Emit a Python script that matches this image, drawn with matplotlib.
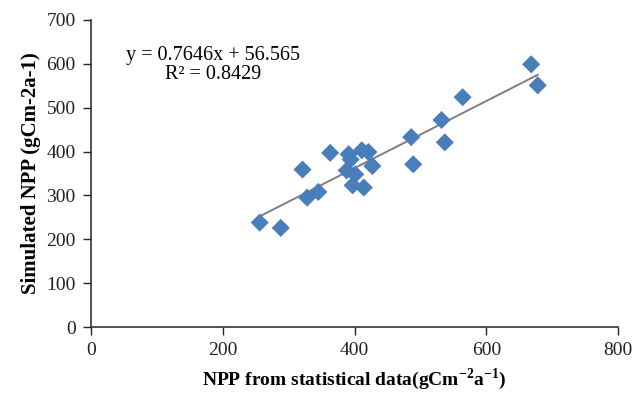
import matplotlib
matplotlib.use("Agg")
import matplotlib.pyplot as plt
import numpy as np

npp_stat = [256, 288, 321, 328, 345, 363, 388, 391, 394, 401, 397, 414, 411, 421,
            427, 486, 489, 532, 537, 564, 668, 678]
npp_sim = [238, 226, 359, 295, 308, 397, 357, 394, 382, 348, 323, 318, 403, 399,
           367, 433, 371, 472, 421, 524, 599, 551]
slope = 0.7646
intercept = 56.565
r2 = 0.8429
xticks = [0, 200, 400, 600, 800]
yticks = [0, 100, 200, 300, 400, 500, 600, 700]

plt.rcParams['font.family'] = ['Liberation Serif', 'DejaVu Serif']
plt.rcParams['mathtext.fontset'] = 'custom'
plt.rcParams['mathtext.rm'] = 'Liberation Serif'
plt.rcParams['mathtext.bf'] = 'Liberation Serif:bold'

fig = plt.figure(figsize=(6.34, 3.96), dpi=100)
ax = fig.add_axes([0.1435, 0.1742, 0.8315, 0.7753])

ax.scatter(npp_stat, npp_sim, marker='D', s=85, color='#4a7ebb', edgecolors='none', zorder=3)
xs = np.array([min(npp_stat), max(npp_stat)])
ax.plot(xs, slope * xs + intercept, color='#7f7f7f', lw=1.4, zorder=2)

ax.set_xlim(0, 800)
ax.set_ylim(0, 700)
ax.set_xticks(xticks)
ax.set_yticks(yticks)
ax.tick_params(direction='out', length=6, width=1, labelsize=14, colors='#222222', pad=5)
for s in ['top', 'right']:
    ax.spines[s].set_visible(False)
for s in ['left', 'bottom']:
    ax.spines[s].set_color('#333333')
    ax.spines[s].set_linewidth(1.2)

ax.set_xlabel(r'NPP from statistical data(gCm$^{\mathbf{-2}}$a$^{\mathbf{-1}}$)', fontsize=14,
              fontweight='bold', labelpad=5)
ax.set_ylabel('Simulated NPP (gCm-2a-1)', fontsize=15, fontweight='bold', labelpad=4)

ax.text(185, 597, f'y = {slope}x + {intercept}\nR² = {r2}', ha='center', va='center',
        fontsize=14.5, linespacing=1.0)

fig.savefig('out.png', dpi=100)
